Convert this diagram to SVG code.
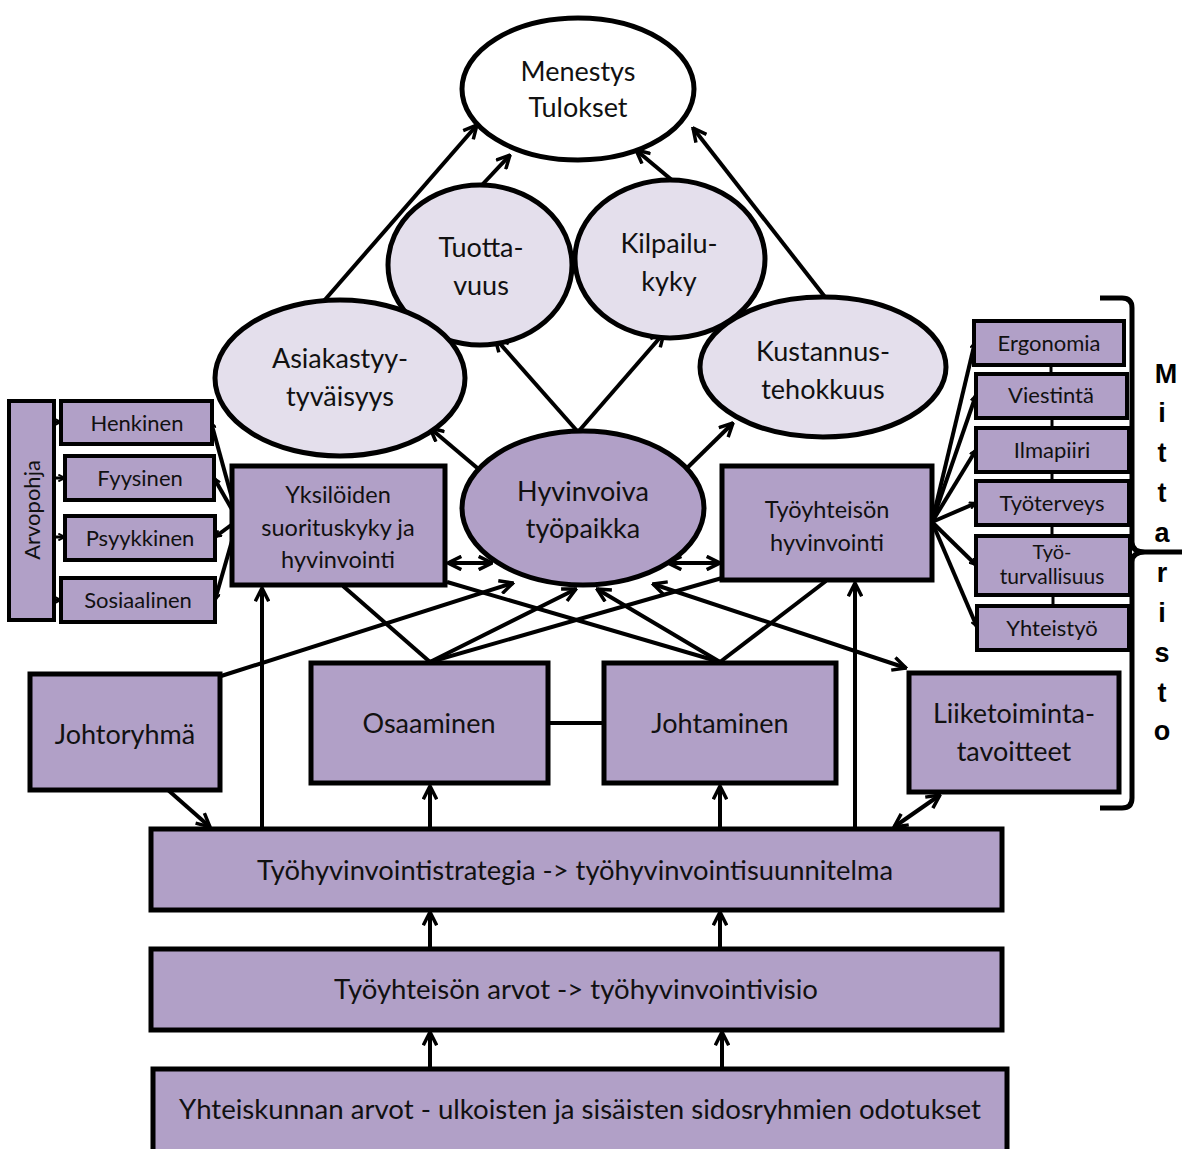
<svg xmlns="http://www.w3.org/2000/svg" width="1182" height="1149" viewBox="0 0 1182 1149">
<defs>
<style>
.box{fill:#b1a0c7;stroke:#000;stroke-width:5}
.sbox{fill:#b1a0c7;stroke:#000;stroke-width:4}
.ell{fill:#e4dfec;stroke:#000;stroke-width:5}
.ellw{fill:#fff;stroke:#000;stroke-width:5}
.ellm{fill:#b1a0c7;stroke:#000;stroke-width:5}
.t{font-family:Lato,"Open Sans","Liberation Sans",sans-serif;fill:#111;text-anchor:middle}
.b{font-size:27px}
.md{font-size:23.5px}
.sm{font-size:22px}
.c{stroke:#000;stroke-width:4;fill:none}
.cs{stroke:#000;stroke-width:3;fill:none}
.m{font-family:"Liberation Sans",Arial,sans-serif;font-weight:bold;font-size:27px;fill:#000;text-anchor:middle}
</style>
<marker id="a" viewBox="0 0 12 12" refX="11" refY="6" markerWidth="16" markerHeight="16" markerUnits="userSpaceOnUse" orient="auto-start-reverse">
<path d="M1,1 L11,6 L1,11" fill="none" stroke="#000" stroke-width="2.6"/>
</marker>
<marker id="s" viewBox="0 0 12 12" refX="11" refY="6" markerWidth="8" markerHeight="8" markerUnits="userSpaceOnUse" orient="auto-start-reverse">
<path d="M1,1 L11,6 L1,11" fill="none" stroke="#000" stroke-width="3"/>
</marker>
</defs>
<rect width="1182" height="1149" fill="#fff"/>

<g id="connectors">
<path class="c" d="M323,302 L477,125" marker-end="url(#a)"/>
<path class="c" d="M481,186 L510,155" marker-end="url(#a)"/>
<path class="c" d="M673,181 L636,150" marker-end="url(#a)"/>
<path class="c" d="M825,297 L693,128" marker-end="url(#a)"/>
<path class="c" d="M578,432 L495,338" marker-end="url(#a)"/>
<path class="c" d="M578,432 L664,333" marker-end="url(#a)"/>
<path class="c" d="M482,472 L430,428" marker-end="url(#a)"/>
<path class="c" d="M685,470 L733,423" marker-end="url(#a)"/>
<path class="c" d="M448,563 L492,563" marker-start="url(#a)" marker-end="url(#a)"/>
<path class="c" d="M668,563 L720,563" marker-start="url(#a)" marker-end="url(#a)"/>
<path class="c" d="M343,586 L430,662"/>
<path class="c" d="M430,662 L576,589" marker-end="url(#a)"/>
<path class="c" d="M430,662 L722,578"/>
<path class="c" d="M720,662 L447,582"/>
<path class="c" d="M720,662 L597,589" marker-end="url(#a)"/>
<path class="c" d="M720,662 L826,581"/>
<path class="c" d="M218,677 L513,583" marker-end="url(#a)"/>
<path class="c" d="M653,584 L906,668" marker-start="url(#a)" marker-end="url(#a)"/>
<path class="c" d="M262,828 L262,588" marker-end="url(#a)"/>
<path class="c" d="M430,828 L430,786" marker-end="url(#a)"/>
<path class="c" d="M720,828 L720,786" marker-end="url(#a)"/>
<path class="c" d="M855,828 L855,583" marker-end="url(#a)"/>
<path class="c" d="M168,790 L210,827" marker-end="url(#a)"/>
<path class="c" d="M940,795 L894,827" marker-start="url(#a)" marker-end="url(#a)"/>
<path class="c" d="M548,723 L603,723"/>
<path class="c" d="M430,948 L430,912" marker-end="url(#a)"/>
<path class="c" d="M720,948 L720,912" marker-end="url(#a)"/>
<path class="c" d="M430,1068 L430,1032" marker-end="url(#a)"/>
<path class="c" d="M722,1068 L722,1032" marker-end="url(#a)"/>
<path class="c" d="M238,520 L211,422" marker-end="url(#s)"/>
<path class="c" d="M238,520 L214,478" marker-end="url(#s)"/>
<path class="c" d="M238,520 L215,537" marker-end="url(#s)"/>
<path class="c" d="M238,520 L215,600" marker-end="url(#s)"/>
<path class="cs" d="M55,422 L61,422" marker-end="url(#s)"/>
<path class="cs" d="M55,478 L65,478" marker-end="url(#s)"/>
<path class="cs" d="M55,537 L65,537" marker-end="url(#s)"/>
<path class="cs" d="M55,600 L61,600" marker-end="url(#s)"/>
<path class="c" d="M932,522 L975,342" marker-end="url(#s)"/>
<path class="c" d="M932,522 L976,395" marker-end="url(#s)"/>
<path class="c" d="M932,522 L976,450" marker-end="url(#s)"/>
<path class="c" d="M932,522 L976,503" marker-end="url(#s)"/>
<path class="c" d="M932,522 L976,565" marker-end="url(#s)"/>
<path class="c" d="M932,522 L977,627" marker-end="url(#s)"/>
<path class="cs" d="M1051,365 L1051,373"/>
<path class="cs" d="M1052,418 L1052,427"/>
<path class="cs" d="M1052,472 L1052,480"/>
<path class="cs" d="M1052,525 L1052,535"/>
<path class="cs" d="M1053,595 L1053,605"/>
</g>

<g id="menestys"><ellipse class="ellw" cx="578" cy="89" rx="116" ry="71"/>
<text class="t b" x="578" y="81">Menestys</text><text class="t b" x="578" y="117">Tulokset</text></g>
<g id="tuottavuus"><ellipse class="ell" cx="480" cy="265" rx="92" ry="80"/>
<text class="t b" x="481" y="257">Tuotta-</text><text class="t b" x="481" y="295">vuus</text></g>
<g id="kilpailukyky"><ellipse class="ell" cx="670" cy="259" rx="95" ry="79"/>
<text class="t b" x="669" y="253">Kilpailu-</text><text class="t b" x="669" y="291">kyky</text></g>
<g id="asiakas"><ellipse class="ell" cx="340" cy="378" rx="125" ry="78"/>
<text class="t b" x="340" y="368">Asiakastyy-</text><text class="t b" x="340" y="406">tyväisyys</text></g>
<g id="kustannus"><ellipse class="ell" cx="823" cy="367" rx="123" ry="70"/>
<text class="t b" x="823" y="361">Kustannus-</text><text class="t b" x="823" y="399">tehokkuus</text></g>
<g id="hyvinvoiva"><ellipse class="ellm" cx="583" cy="508" rx="121" ry="77"/>
<text class="t b" x="583" y="501">Hyvinvoiva</text><text class="t b" x="583" y="538">työpaikka</text></g>

<g id="yksiloiden"><rect class="box" x="232" y="466" width="213" height="119"/>
<text class="t md" x="338" y="503">Yksilöiden</text><text class="t md" x="338" y="536">suorituskyky ja</text><text class="t md" x="338" y="568">hyvinvointi</text></g>
<g id="tyoyhteison"><rect class="box" x="722" y="466" width="210" height="114"/>
<text class="t md" x="827" y="518">Työyhteisön</text><text class="t md" x="827" y="551">hyvinvointi</text></g>

<g id="arvopohja"><rect class="sbox" x="9" y="401" width="45" height="219"/>
<text class="t sm" transform="translate(40,510) rotate(-90)">Arvopohja</text></g>
<g id="henkinen"><rect class="sbox" x="61" y="401" width="151" height="43"/><text class="t sm" x="137" y="431">Henkinen</text></g>
<g id="fyysinen"><rect class="sbox" x="65" y="456" width="149" height="44"/><text class="t sm" x="140" y="486">Fyysinen</text></g>
<g id="psyykkinen"><rect class="sbox" x="65" y="516" width="150" height="44"/><text class="t sm" x="140" y="546">Psyykkinen</text></g>
<g id="sosiaalinen"><rect class="sbox" x="61" y="578" width="154" height="44"/><text class="t sm" x="138" y="608">Sosiaalinen</text></g>

<g id="ergonomia"><rect class="sbox" x="974" y="321" width="150" height="44"/><text class="t sm" x="1049" y="351">Ergonomia</text></g>
<g id="viestinta"><rect class="sbox" x="976" y="374" width="151" height="44"/><text class="t sm" x="1051" y="403">Viestintä</text></g>
<g id="ilmapiiri"><rect class="sbox" x="976" y="428" width="153" height="44"/><text class="t sm" x="1052" y="458">Ilmapiiri</text></g>
<g id="tyoterveys"><rect class="sbox" x="976" y="481" width="153" height="44"/><text class="t sm" x="1052" y="511">Työterveys</text></g>
<g id="tyoturvallisuus"><rect class="sbox" x="976" y="536" width="154" height="59"/><text class="t" x="1052" y="559" font-size="20">Työ-</text><text class="t" x="1052" y="584" font-size="21">turvallisuus</text></g>
<g id="yhteistyo"><rect class="sbox" x="977" y="606" width="152" height="44"/><text class="t sm" x="1052" y="636">Yhteistyö</text></g>

<g id="johtoryhma"><rect class="box" x="30" y="674" width="190" height="116"/><text class="t b" x="125" y="744">Johtoryhmä</text></g>
<g id="osaaminen"><rect class="box" x="311" y="663" width="237" height="120"/><text class="t b" x="429" y="733">Osaaminen</text></g>
<g id="johtaminen"><rect class="box" x="604" y="663" width="232" height="120"/><text class="t b" x="720" y="733">Johtaminen</text></g>
<g id="liiketoiminta"><rect class="box" x="909" y="673" width="210" height="119"/><text class="t b" x="1014" y="723">Liiketoiminta-</text><text class="t b" x="1014" y="761">tavoitteet</text></g>

<g id="strategia"><rect class="box" x="151" y="829" width="851" height="81"/><text class="t" x="575" y="880" font-size="26" textLength="636" lengthAdjust="spacingAndGlyphs">Työhyvinvointistrategia -&gt; työhyvinvointisuunnitelma</text></g>
<g id="arvot"><rect class="box" x="151" y="949" width="851" height="81"/><text class="t" x="576" y="999" font-size="26" textLength="484" lengthAdjust="spacingAndGlyphs">Työyhteisön arvot  -&gt; työhyvinvointivisio</text></g>
<g id="yhteiskunta"><rect class="box" x="153" y="1069" width="854" height="84"/><text class="t" x="580" y="1119" font-size="26" textLength="802" lengthAdjust="spacingAndGlyphs">Yhteiskunnan arvot  - ulkoisten ja sisäisten sidosryhmien odotukset</text></g>

<g id="mittaristo">
<path d="M1100,298 L1122,298 Q1132,298 1132,308 L1132,542 Q1132,552 1145,552 L1182,552 M1145,552 Q1132,552 1132,562 L1132,798 Q1132,808 1122,808 L1100,808" fill="none" stroke="#000" stroke-width="5"/>
<text class="m" x="1166" y="383">M</text>
<text class="m" x="1162" y="422">i</text>
<text class="m" x="1162" y="462">t</text>
<text class="m" x="1162" y="502">t</text>
<text class="m" x="1162" y="542">a</text>
<text class="m" x="1162" y="582">r</text>
<text class="m" x="1162" y="622">i</text>
<text class="m" x="1162" y="662">s</text>
<text class="m" x="1162" y="702">t</text>
<text class="m" x="1162" y="740">o</text>
</g>
</svg>
